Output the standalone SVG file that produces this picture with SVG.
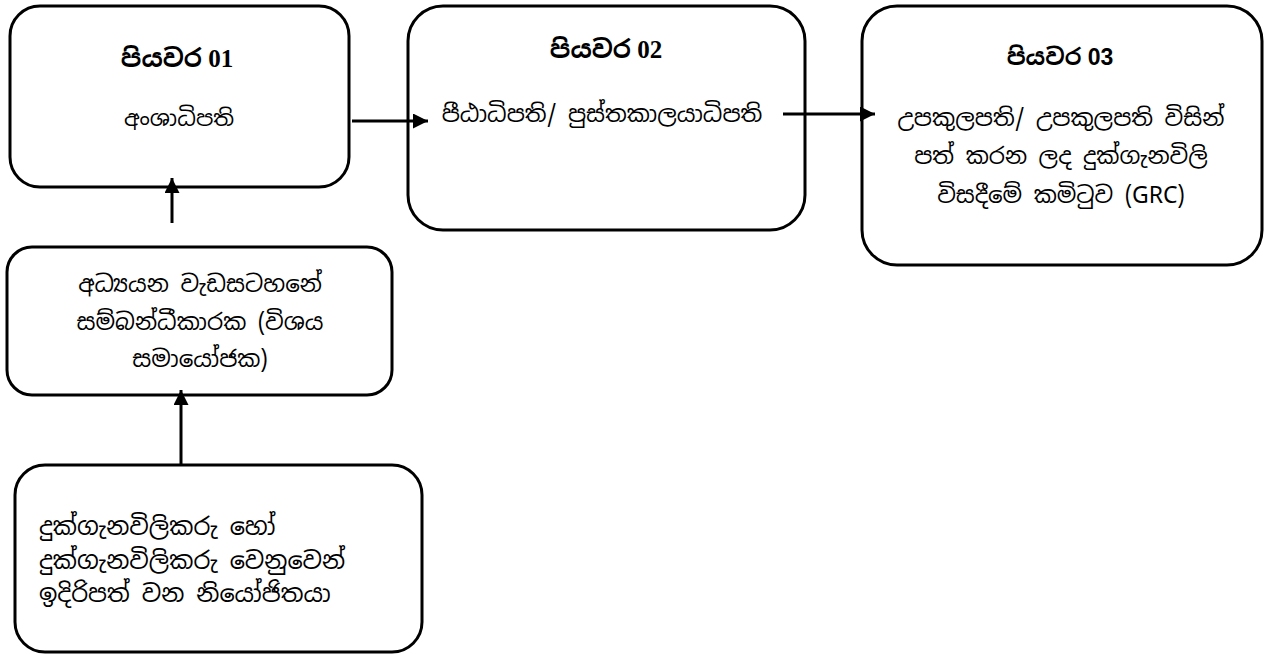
<svg xmlns="http://www.w3.org/2000/svg" width="1266" height="654" viewBox="0 0 1266 654">
<defs>
<marker id="ah" viewBox="0 0 10 10" refX="10" refY="5" markerWidth="5" markerHeight="5" markerUnits="strokeWidth" orient="auto">
<path d="M0,0 L10,5 L0,10 z" fill="#000"/>
</marker>
<style>
.box{fill:#fff;stroke:#000;stroke-width:3}
.t{font-family:"Noto Sans Sinhala","Iskoola Pota","Noto Serif Sinhala","Noto Sans","DejaVu Sans",sans-serif;font-size:23px;fill:#000}
.s{font-size:22px}
.l{font-size:24px}
.c{text-anchor:middle}
.h{font-family:"Liberation Serif","Noto Sans Sinhala","Iskoola Pota",serif;font-weight:bold;font-size:25px;fill:#000;text-anchor:middle}
.hs{font-family:"Liberation Sans","Noto Sans Sinhala",sans-serif;font-size:23px}
.line{stroke:#000;stroke-width:3;fill:none}
</style>
</defs>
<rect width="1266" height="654" fill="#fff"/>
<g id="step1">
<rect class="box" x="10" y="6" width="339" height="181" rx="30"/>
<text class="h" x="177" y="67">පියවර 01</text>
<text class="t s c" x="179" y="126">අංශාධිපති</text>
</g>
<g id="step2">
<rect class="box" x="408" y="6" width="397" height="224" rx="35"/>
<text class="h" x="606" y="58">පියවර 02</text>
<text class="t c" x="602" y="122">පීඨාධිපති/ පුස්තකාලයාධිපති</text>
</g>
<g id="step3">
<rect class="box" x="862" y="6" width="400" height="259" rx="35"/>
<text class="h hs" x="1060" y="65">පියවර 03</text>
<text class="t c" x="1061" y="126">උපකුලපති/ උපකුලපති විසින්</text>
<text class="t c" x="1061" y="164">පත් කරන ලද දුක්ගැනවිලි</text>
<text class="t c" x="1061" y="203">විසදීමේ කමිටුව (GRC)</text>
</g>
<g id="coordinator">
<rect class="box" x="7" y="247" width="385" height="148" rx="25"/>
<text class="t c" x="200" y="292">අධ්‍යයන වැඩසටහනේ</text>
<text class="t c" x="200" y="330">සම්බන්ධීකාරක (විශය</text>
<text class="t c" x="200" y="367">සමායෝජක)</text>
</g>
<g id="complainant">
<rect class="box" x="15" y="465" width="407" height="187" rx="30"/>
<text class="t l" x="39" y="535">දුක්ගැනවිලිකරු හෝ</text>
<text class="t l" x="39" y="569">දුක්ගැනවිලිකරු වෙනුවෙන්</text>
<text class="t l" x="39" y="602">ඉදිරිපත් වන නියෝජිතයා</text>
</g>
<g id="connectors">
<line class="line" x1="352" y1="121" x2="428" y2="121" marker-end="url(#ah)"/>
<line class="line" x1="783" y1="114" x2="875" y2="114" marker-end="url(#ah)"/>
<line class="line" x1="172" y1="223" x2="172" y2="178" marker-end="url(#ah)"/>
<line class="line" x1="181" y1="465" x2="181" y2="390" marker-end="url(#ah)"/>
</g>
</svg>
